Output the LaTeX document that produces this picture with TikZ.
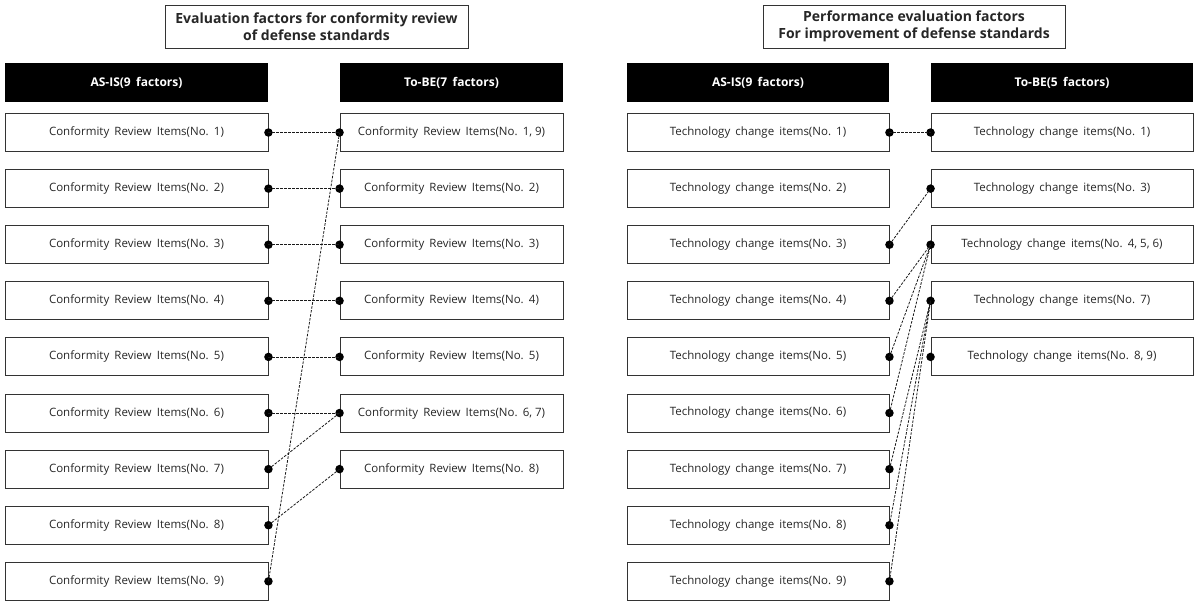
\documentclass[tikz,border=0pt]{standalone}
\usepackage{fontspec}
\setmainfont{Open Sans}
\newcommand\wsp{\hspace{0.45em}}
\begin{document}
\begin{tikzpicture}[x=1pt,y=-1pt,
  item/.style={draw=black!80, line width=0.9pt, minimum height=38pt, inner sep=0pt, font=\fontsize{11.5}{13}\selectfont, text=black!85},
  hdr/.style={fill=black, text=white, minimum height=39pt, inner sep=0pt, font=\bfseries\fontsize{12}{14}\selectfont},
  ttl/.style={draw=black!80, line width=0.9pt, align=center, inner sep=0pt, minimum height=43pt, font=\bfseries\fontsize{14}{16.5}\selectfont, text=black!85},
  dot/.style={circle, fill=black, inner sep=0pt, minimum size=8.5pt},
  link/.style={dash pattern=on 2.6pt off 1.4pt, line width=0.8pt, draw=black!90}]
\useasboundingbox (0,0) rectangle (1198,603);
% titles
\node[ttl, minimum width=303pt] (t1) at (316.5,26.5) {Evaluation factors for conformity review\\of defense standards};
\node[ttl, minimum width=302pt] (t2) at (914,26.5) {Performance evaluation factors\\For improvement of defense standards};
% headers
\node[hdr, minimum width=263pt] (h1) at (136.5,82.5) {AS-IS(9\wsp factors)};
\node[hdr, minimum width=223pt] (h2) at (451.5,82.5) {To-BE(7\wsp factors)};
\node[hdr, minimum width=262pt] (h3) at (758,82.5) {AS-IS(9\wsp factors)};
\node[hdr, minimum width=262pt] (h4) at (1062,82.5) {To-BE(5\wsp factors)};
% left AS-IS
\foreach \i in {1,...,9}{
  \node[item, minimum width=263pt] (la\i) at (136.5,{132.5+56.1*(\i-1)}) {Conformity\wsp Review\wsp Items(No.\wsp \i)};
  \node[dot] (dla\i) at (la\i.east) {};
}
% left To-BE
\foreach \i/\t in {1/{1, 9},2/2,3/3,4/4,5/5,6/{6, 7},7/8}{
  \node[item, minimum width=223pt] (lb\i) at (451.5,{132.5+56.1*(\i-1)}) {Conformity\wsp Review\wsp Items(No.\wsp \t)};
  \node[dot] (dlb\i) at (lb\i.west) {};
}
% right AS-IS
\foreach \i in {1,...,9}{
  \node[item, minimum width=262pt] (ra\i) at (758,{132.5+56.1*(\i-1)}) {Technology\wsp change\wsp items(No.\wsp \i)};
}
\foreach \i in {1,3,4,5,6,7,8,9}{
  \node[dot] (dra\i) at (ra\i.east) {};
}
% right To-BE
\foreach \i/\t in {1/1,2/3,3/{4, 5, 6},4/7,5/{8, 9}}{
  \node[item, minimum width=262pt] (rb\i) at (1062,{132.5+56.1*(\i-1)}) {Technology\wsp change\wsp items(No.\wsp \t)};
  \node[dot] (drb\i) at (rb\i.west) {};
}
% left links
\foreach \a/\b in {1/1,2/2,3/3,4/4,5/5,6/6,7/6,8/7,9/1}{
  \draw[link] (dla\a.center) -- (dlb\b.center);
}
% right links
\foreach \a/\b in {1/1,3/2,4/3,5/3,6/3,7/4,8/4,9/4}{
  \draw[link] (dra\a.center) -- (drb\b.center);
}
\end{tikzpicture}
\end{document}
